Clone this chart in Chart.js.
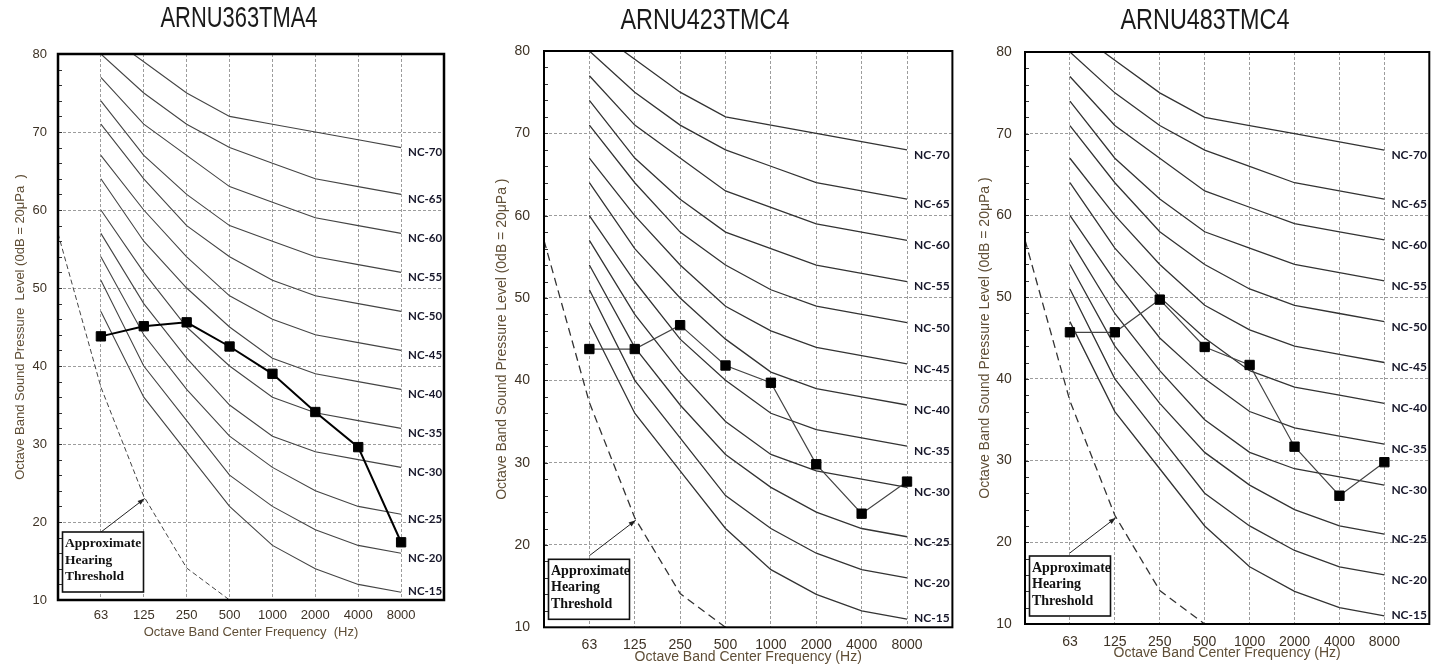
<!DOCTYPE html>
<html><head><meta charset="utf-8">
<script src="https://cdn.jsdelivr.net/npm/chart.js@4.4.1/dist/chart.umd.min.js"></script>
<style>
html,body{margin:0;padding:0;background:#fff;width:1441px;height:668px;overflow:hidden}
canvas{position:absolute;top:0}
</style></head><body>
<canvas id="c1" width="480" height="668" style="left:0px"></canvas>
<canvas id="c2" width="480" height="668" style="left:480px"></canvas>
<canvas id="c3" width="481" height="668" style="left:960px"></canvas>
<script>
// ---------- data ----------
const frequencies = ['63','125','250','500','1000','2000','4000','8000'];
const yTickValues = [10,20,30,40,50,60,70,80];
const ncNames = ['NC-15','NC-20','NC-25','NC-30','NC-35','NC-40','NC-45','NC-50','NC-55','NC-60','NC-65','NC-70'];
const nc15 = [47,36,29,22,17,14,12,11];
const nc20 = [51,40,33,26,22,19,17,16];
const nc25 = [54,44,37,31,27,24,22,21];
const nc30 = [57,48,41,35,31,29,28,27];
const nc35 = [60,52,45,40,36,34,33,32];
const nc40 = [64,56,50,45,41,39,38,37];
const nc45 = [67,60,54,49,46,44,43,42];
const nc50 = [71,64,58,54,51,49,48,47];
const nc55 = [74,67,62,58,56,54,53,52];
const nc60 = [77,71,67,63,61,59,58,57];
const nc65 = [80,75,71,68,66,64,63,62];
const nc70 = [83,79,75,72,71,70,69,68];
const ncCurves = [nc15,nc20,nc25,nc30,nc35,nc40,nc45,nc50,nc55,nc60,nc65,nc70];
const thresholdFreqIndex = [-1,0,1,2,3];
const thresholdLevel = [57,37.3,23.3,14.1,10];
const noteLines = ['Approximate','Hearing','Threshold'];
const arrowTail = [0,18.7];
const arrowHead = [1.02,23];
const titles = ['ARNU363TMA4','ARNU423TMC4','ARNU483TMC4'];
const arnu363 = [43.8,45.1,45.6,42.5,39.0,34.1,29.6,17.4];
const arnu423 = [43.8,43.8,46.7,41.8,39.7,29.8,23.8,27.7];
const arnu483 = [45.7,45.7,49.7,43.9,41.7,31.7,25.7,29.8];
const yAxisTitles = ['Octave Band Sound Pressure  Level (0dB = 20\u03bcPa  )','Octave Band Sound Pressure Level (0dB = 20\u03bcPa )','Octave Band Sound Pressure Level (0dB = 20\u03bcPa )'];
const xAxisTitles = ['Octave Band Center Frequency  (Hz)','Octave Band Center Frequency (Hz)','Octave Band Center Frequency (Hz)'];
const yMinorStep = 2;

// ---------- layout / style per panel ----------
const panels = [
  {id:'c1', title:titles[0], series:arnu363, yTitle:yAxisTitles[0], xTitle:xAxisTitles[0],
   pad:{top:54,right:36,bottom:28.2,left:0}, yW:58, yTitlePad:12.2, yTickPad:11, xH:39.8, xTickPad:7.2,
   tickFont:13, axisTitleFont:13, titleX:239, titleY:19, titleScale:0.73,
   lineColor:'#000', lineWidth:2, ncColor:'#444', ncWidth:1.1, thrColor:'#444', thrWidth:1, thrDash:[5,3], frame:2.5,
   ncFont:11.5, noteFont:13.5},
  {id:'c2', title:titles[1], series:arnu423, yTitle:yAxisTitles[1], xTitle:xAxisTitles[1],
   pad:{top:51,right:6.7,bottom:2.9,left:0}, yW:64, yTitlePad:13.6, yTickPad:14, xH:37.8, xTickPad:9.3,
   tickFont:14, axisTitleFont:14, titleX:225, titleY:21, titleScale:0.78,
   lineColor:'#444', lineWidth:1.2, ncColor:'#333', ncWidth:1.3, thrColor:'#333', thrWidth:1.3, thrDash:[8,5], frame:2,
   ncFont:12, noteFont:14},
  {id:'c3', title:titles[2], series:arnu483, yTitle:yAxisTitles[2], xTitle:xAxisTitles[2],
   pad:{top:52,right:11.7,bottom:6.3,left:0}, yW:65, yTitlePad:16.6, yTickPad:13.3, xH:37.7, xTickPad:9.3,
   tickFont:14, axisTitleFont:14, titleX:245, titleY:21, titleScale:0.78,
   lineColor:'#444', lineWidth:1.2, ncColor:'#333', ncWidth:1.3, thrColor:'#333', thrWidth:1.3, thrDash:[8,5], frame:2,
   ncFont:12, noteFont:14}
];

const tickColor = '#3d3225';
const axisTitleColor = '#5f4e36';

const decor = {
  id:'decor',
  afterDatasetsDraw(chart, args, o) {
    const {ctx, chartArea:a, scales:{x, y}} = chart;
    ctx.save();
    // minor ticks (inward, left edge)
    ctx.strokeStyle = '#333'; ctx.lineWidth = 1;
    for (let v = yTickValues[0]; v <= yTickValues[yTickValues.length-1]; v += yMinorStep) {
      const py = Math.round(y.getPixelForValue(v)) + 0.5;
      ctx.beginPath(); ctx.moveTo(a.left, py); ctx.lineTo(a.left + 4, py); ctx.stroke();
    }
    // NC labels
    ctx.fillStyle = '#17172a';
    ctx.font = 'bold ' + o.ncFont + 'px Lato, "Open Sans", sans-serif';
    ctx.textAlign = 'left'; ctx.textBaseline = 'middle';
    const last = frequencies.length - 1;
    ncCurves.forEach((c, i) => {
      const px = x.getPixelForValue(last) + 7;
      const py = Math.min(y.getPixelForValue(c[last]) + 5, a.bottom - 9);
      ctx.fillText(ncNames[i], px, py);
    });
    // arrow
    const tx = x.getPixelForValue(arrowTail[0]), ty = y.getPixelForValue(arrowTail[1]);
    const hx = x.getPixelForValue(arrowHead[0]), hy = y.getPixelForValue(arrowHead[1]);
    ctx.strokeStyle = '#222'; ctx.fillStyle = '#222'; ctx.lineWidth = 1;
    ctx.beginPath(); ctx.moveTo(tx, ty); ctx.lineTo(hx, hy); ctx.stroke();
    const ang = Math.atan2(hy - ty, hx - tx);
    ctx.beginPath();
    ctx.moveTo(hx, hy);
    ctx.lineTo(hx - 7*Math.cos(ang) + 2.5*Math.sin(ang), hy - 7*Math.sin(ang) - 2.5*Math.cos(ang));
    ctx.lineTo(hx - 7*Math.cos(ang) - 2.5*Math.sin(ang), hy - 7*Math.sin(ang) + 2.5*Math.cos(ang));
    ctx.closePath(); ctx.fill();
    // note box
    const bw = 81, bh = 60;
    const bx = a.left + 4.5, by = a.bottom - 8 - bh;
    ctx.fillStyle = '#fff'; ctx.fillRect(bx, by, bw, bh);
    ctx.strokeStyle = '#111'; ctx.lineWidth = 1.6; ctx.strokeRect(bx, by, bw, bh);
    ctx.fillStyle = '#111';
    ctx.font = 'bold ' + o.noteFont + 'px "Liberation Serif", "Times New Roman", serif';
    ctx.textBaseline = 'middle';
    noteLines.forEach((t, i) => ctx.fillText(t, bx + 2.5, by + 12 + i * 16.5));
    // frame
    ctx.strokeStyle = '#000'; ctx.lineWidth = o.frame;
    ctx.strokeRect(a.left, a.top, a.right - a.left, a.bottom - a.top);
    ctx.restore();
  },
  afterDraw(chart, args, o) {
    const ctx = chart.ctx;
    ctx.save();
    ctx.translate(o.titleX, o.titleY);
    ctx.scale(o.titleScale, 1);
    ctx.fillStyle = '#1a1a1a';
    ctx.font = '30px "Liberation Sans", Arial, sans-serif';
    ctx.textAlign = 'center'; ctx.textBaseline = 'middle';
    ctx.fillText(o.title, 0, 0);
    ctx.restore();
  }
};

panels.forEach(p => {
  const datasets = [];
  ncCurves.forEach((c, i) => datasets.push({
    label: ncNames[i], data: c.map((v, k) => ({x:k, y:v})),
    borderColor: p.ncColor, borderWidth: p.ncWidth, pointRadius: 0, fill: false, order: 3
  }));
  datasets.push({
    label: 'Approximate Hearing Threshold',
    data: thresholdFreqIndex.map((k, i) => ({x:k, y:thresholdLevel[i]})),
    borderColor: p.thrColor, borderWidth: p.thrWidth, borderDash: p.thrDash, pointRadius: 0, fill: false, order: 2
  });
  datasets.push({
    label: p.title, data: p.series.map((v, k) => ({x:k, y:v})),
    borderColor: p.lineColor, borderWidth: p.lineWidth,
    pointStyle: 'rect', pointRadius: 6.6, pointBackgroundColor: '#000', pointBorderColor: '#000', pointBorderWidth: 1,
    fill: false, order: 1
  });
  new Chart(document.getElementById(p.id), {
    type: 'line',
    data: { datasets },
    plugins: [decor],
    options: {
      responsive: false, animation: false, events: [],
      layout: { padding: p.pad },
      plugins: {
        legend: { display: false }, tooltip: { enabled: false }, title: { display: false },
        decor: { ncFont: p.ncFont, noteFont: p.noteFont, frame: p.frame,
                 title: p.title, titleX: p.titleX, titleY: p.titleY, titleScale: p.titleScale }
      },
      scales: {
        x: {
          type: 'linear', min: -1, max: frequencies.length,
          afterBuildTicks: s => { s.ticks = frequencies.map((f, i) => ({value: i})); },
          afterFit: s => { s.height = p.xH; },
          ticks: { autoSkip: false, maxRotation: 0, padding: p.xTickPad, color: tickColor,
                   font: { size: p.tickFont, family: '"Liberation Sans", Arial, sans-serif' },
                   callback: v => frequencies[v] },
          grid: { color: '#9c9c9c', lineWidth: 1, drawTicks: false },
          border: { display: false, dash: [3,2] },
          title: { display: true, text: p.xTitle, color: axisTitleColor, padding: {top:0, bottom:0},
                   font: { size: p.axisTitleFont, family: '"Liberation Sans", Arial, sans-serif' } }
        },
        y: {
          type: 'linear', min: yTickValues[0], max: yTickValues[yTickValues.length-1],
          afterBuildTicks: s => { s.ticks = yTickValues.map(v => ({value: v})); },
          afterFit: s => { s.width = p.yW; },
          ticks: { padding: p.yTickPad, color: tickColor,
                   font: { size: p.tickFont, family: '"Liberation Sans", Arial, sans-serif' } },
          grid: { color: '#9c9c9c', lineWidth: 1, drawTicks: false },
          border: { display: false, dash: [3,2] },
          title: { display: true, text: p.yTitle, color: axisTitleColor, padding: {top: p.yTitlePad, bottom: 0},
                   font: { size: p.axisTitleFont, family: '"Liberation Sans", Arial, sans-serif' } }
        }
      }
    }
  });
});
</script>
</body></html>
